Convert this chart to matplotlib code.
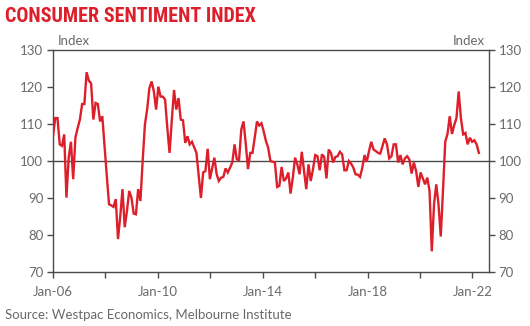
import matplotlib
matplotlib.use('Agg')
import matplotlib.pyplot as plt
from matplotlib import font_manager as fm
import pandas as pd

# Westpac-MI consumer sentiment, one value per survey
sentiment = [
    106.7, 111.6, 111.6, 104.5, 104.1, 107.2, 90.1, 100.9, 105.2, 95.1,
    106.3, 108.9, 111.2, 115.4, 115.4, 124.0, 121.7, 121.0, 111.2, 115.7,
    115.4, 110.7, 112.1, 104.0, 96.0, 88.3, 88.0, 87.6, 89.7, 78.9,
    85.0, 92.4, 82.1, 86.5, 91.9, 90.1, 85.8, 85.6, 92.4, 89.2,
    100.0, 109.8, 113.9, 119.7, 121.5, 118.8, 113.9, 120.1, 117.4, 117.4,
    116.6, 109.0, 102.2, 111.0, 119.2, 113.9, 117.0, 111.2, 111.0, 104.9,
    106.7, 104.5, 105.2, 103.7, 102.2, 96.0, 90.0, 96.9, 97.3, 103.3,
    95.1, 98.0, 100.9, 96.5, 94.6, 95.5, 95.7, 98.0, 96.9, 98.2,
    99.6, 104.5, 100.5, 100.2, 108.5, 110.7, 104.7, 97.8, 102.2, 102.2,
    106.3, 110.7, 109.6, 110.2, 108.0, 105.4, 103.6, 100.0, 99.8, 99.6,
    93.0, 93.3, 98.4, 94.6, 95.3, 96.9, 91.2, 95.5, 100.9, 99.1,
    96.4, 102.5, 97.3, 92.4, 99.1, 94.6, 97.8, 101.6, 101.3, 97.5,
    101.8, 101.1, 95.3, 103.1, 102.2, 99.6, 101.1, 101.3, 102.5, 101.8,
    97.5, 97.5, 100.0, 99.3, 98.2, 96.4, 96.3, 95.7, 98.2, 101.6,
    99.8, 102.7, 105.2, 103.1, 102.7, 102.2, 102.0, 104.0, 106.1, 104.5,
    100.7, 101.3, 104.5, 104.5, 99.6, 101.6, 99.1, 100.7, 101.3, 100.4,
    96.6, 99.6, 97.3, 93.0, 96.9, 95.3, 93.7, 95.5, 91.9, 75.6,
    88.3, 93.7, 88.3, 79.6, 92.0, 105.2, 107.3, 112.1, 107.3, 109.7,
    111.6, 118.8, 111.6, 107.2, 107.6, 104.5, 106.3, 105.2, 105.6, 104.5,
    102.2,
]
first_survey = '2006-01-01'
last_survey = '2022-04-01'

tick_dates = ['2006-01-01', '2008-01-01', '2010-01-01', '2012-01-01', '2014-01-01',
              '2016-01-01', '2018-01-01', '2020-01-01', '2022-01-01']
tick_labels = ['Jan-06', '', 'Jan-10', '', 'Jan-14', '', 'Jan-18', '', 'Jan-22']
y_ticks = [70, 80, 90, 100, 110, 120, 130]

dates = pd.date_range(first_survey, last_survey, periods=len(sentiment))

RED = '#dc1f2a'
GREY = '#6a6a6a'
AXIS = '#4a4a4a'
plt.rcParams['font.family'] = ['Lato', 'DejaVu Sans']


def condensed_bold():
    # look for a narrow heavy face for the headline, if one is installed
    wanted = ['robotocondensed-bold', 'robotocondensed-black', 'dejavusanscondensed-bold',
              'liberationsansnarrow-bold', 'condensed-bold', 'condensedbold', 'narrow-bold']
    files = [f.fname for f in fm.fontManager.ttflist]
    for key in wanted:
        for path in files:
            if key in path.lower().replace(' ', '').replace('_', '-'):
                return fm.FontProperties(fname=path), True
    return fm.FontProperties(family='DejaVu Sans', weight='bold'), False


fig = plt.figure(figsize=(5.3, 3.26), dpi=100)
ax = fig.add_axes([0.1, 0.1656, 0.8226, 0.681])

ax.plot(dates, sentiment, color=RED, lw=1.7, solid_joinstyle='miter', zorder=3)
ax.axhline(100, color=AXIS, lw=1.0, zorder=2)

ax.set_ylim(70, 130)
ax.set_xlim(pd.Timestamp('2006-01-01'), pd.Timestamp('2022-08-20'))
ax.set_yticks(y_ticks)
ax.set_xticks(pd.to_datetime(tick_dates))
ax.set_xticklabels(tick_labels)

for side in ['left', 'right', 'top', 'bottom']:
    ax.spines[side].set_color(AXIS)
    ax.spines[side].set_linewidth(1.0)

ax.tick_params(axis='x', length=4, width=1, color=AXIS, pad=6,
               labelsize=9.5, labelcolor=GREY)
ax.tick_params(axis='y', length=4, width=1, color=AXIS, pad=3,
               labelsize=9.5, labelcolor=GREY, right=True, labelright=True)

title_font, narrow = condensed_bold()
title_font.set_size(14.5 if narrow else 10.5)
fig.text(0.009, 0.931, 'CONSUMER SENTIMENT INDEX', color=RED,
         fontproperties=title_font, va='baseline')
ax.text(0.01, 1.012, 'Index', transform=ax.transAxes, fontsize=9.5,
        color=GREY, ha='left', va='bottom')
ax.text(0.99, 1.012, 'Index', transform=ax.transAxes, fontsize=9.5,
        color=GREY, ha='right', va='bottom')
fig.text(0.009, 0.02, 'Source: Westpac Economics, Melbourne Institute',
         fontsize=9.5, color=GREY, va='baseline')

fig.savefig('out.png', dpi=100)
